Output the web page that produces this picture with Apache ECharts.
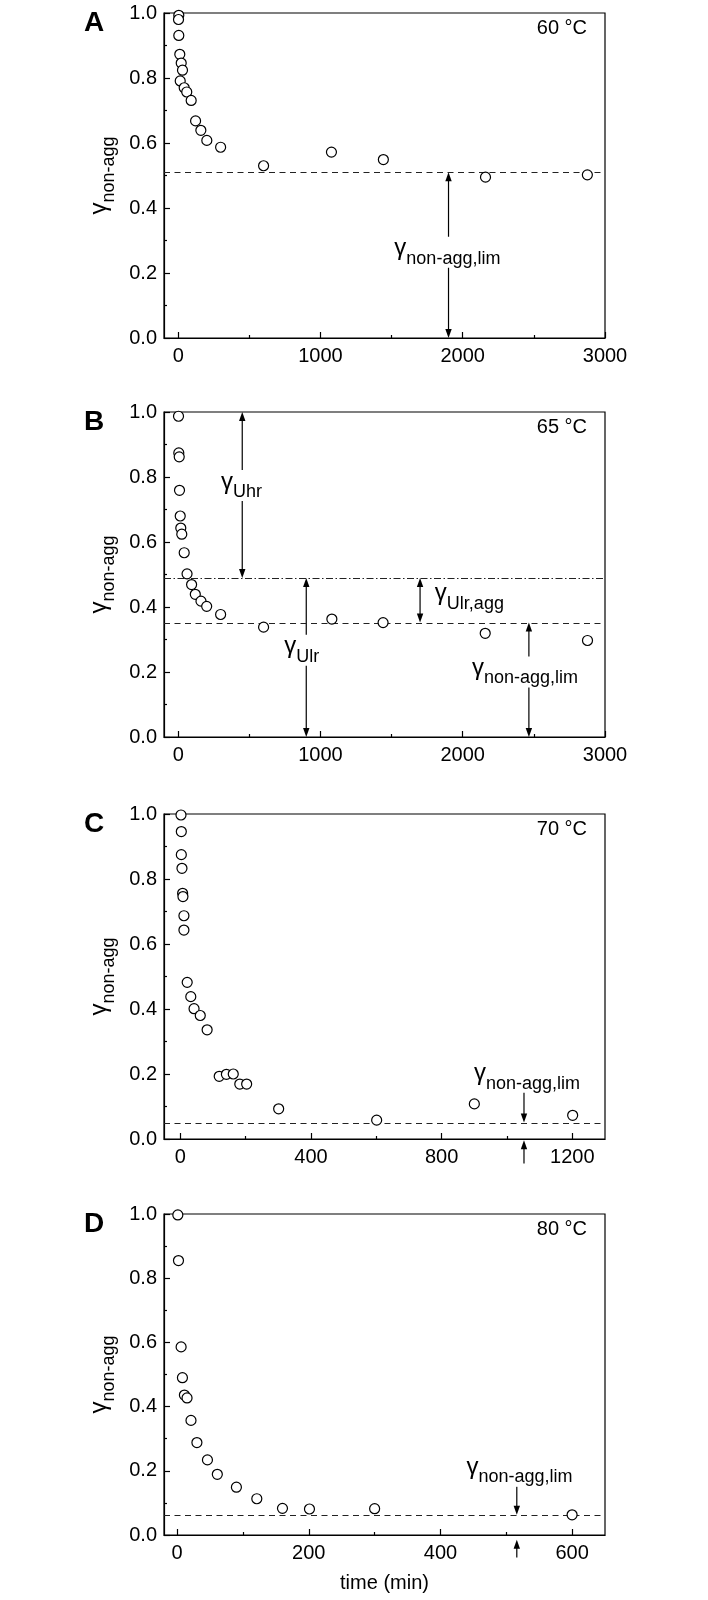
<!DOCTYPE html>
<html lang="en">
<head>
<meta charset="UTF-8">
<title>gamma non-agg</title>
<script src="https://cdn.jsdelivr.net/npm/echarts@6/dist/echarts.min.js"></script>
<style>
  html, body { margin: 0; padding: 0; background: #fff; }
  #main { width: 708px; height: 1600px; }
</style>
</head>
<body>
<div id="main"></div>
<script>
// panel A, 60 °C
var timeA  = [4, 2, 4, 11, 21, 30, 14, 42, 60, 91, 122, 159, 201, 298, 600, 1077, 1442, 2160, 2876];
var gammaA = [0.993, 0.980, 0.931, 0.873, 0.846, 0.824, 0.791, 0.770, 0.757, 0.731, 0.668, 0.639, 0.608, 0.587, 0.530, 0.572, 0.549, 0.495, 0.502];
var limA = 0.51;

// panel B, 65 °C
var timeB  = [2, 4, 7, 9, 14, 18, 25, 42, 62, 94, 120, 160, 200, 298, 600, 1080, 1440, 2158, 2877];
var gammaB = [0.987, 0.874, 0.862, 0.759, 0.680, 0.643, 0.624, 0.567, 0.502, 0.469, 0.439, 0.418, 0.402, 0.377, 0.338, 0.363, 0.352, 0.319, 0.297];
var limB = 0.352;
var uhrB = 0.489;

// panel C, 70 °C
var timeC  = [2, 3, 3, 5, 7, 8, 11, 11, 21, 32, 42, 61, 82, 119, 141, 162, 182, 203, 301, 601, 900, 1201];
var gammaC = [0.997, 0.946, 0.875, 0.833, 0.756, 0.746, 0.687, 0.643, 0.482, 0.438, 0.401, 0.380, 0.336, 0.193, 0.199, 0.200, 0.169, 0.169, 0.093, 0.058, 0.108, 0.073];
var limC = 0.051;

// panel D, 80 °C
var timeD  = [1, 2, 6, 8, 11, 15, 21, 30, 46, 61, 90, 121, 160, 201, 300, 600];
var gammaD = [0.997, 0.855, 0.586, 0.490, 0.436, 0.427, 0.357, 0.288, 0.234, 0.189, 0.149, 0.113, 0.083, 0.081, 0.082, 0.063];
var limD = 0.063;

// x tick values
var ticksAB = [0, 1000, 2000, 3000], minorAB = [500, 1500, 2500];
var ticksC = [0, 400, 800, 1200], minorC = [200, 600, 1000];
var ticksD = [0, 200, 400, 600], minorD = [100, 300, 500];

// arrows: [time, from, to, head at both ends]
var arrowsA = [[1900, 0, limA, 1]];
var arrowsB = [[450, 1.0, uhrB, 1], [900, 0, uhrB, 1], [1700, uhrB, limB, 1], [2465, 0, limB, 1]];
var arrowsC = [[1052, 0.147, limC, 0], [1052, -0.075, -0.004, 0]];
var arrowsD = [[516, 0.150, limD, 0], [516, -0.07, -0.015, 0]];

// annotation labels: [time, gamma], subscript
var notesA = [{x: 1892, y: 0.264, sub: 'non-agg,lim'}];
var notesB = [{x: 445, y: 0.774, sub: 'Uhr'}, {x: 868, y: 0.267, sub: 'Ulr'},
              {x: 1790, y: 0.43, sub: 'Ulr,agg', align: 'left'}, {x: 2437, y: 0.2, sub: 'non-agg,lim'}];
var notesC = [{x: 1061, y: 0.19, sub: 'non-agg,lim'}];
var notesD = [{x: 520, y: 0.2, sub: 'non-agg,lim'}];

var FONT = '"Liberation Sans", Arial, Helvetica, sans-serif';
var BLACK = '#000';

var panels = [
  {key: 'A', temp: '60 °C', time: timeA, gamma: gammaA, xmin: -100, xmax: 3000, ticks: ticksAB, minor: minorAB,
   lines: [{y: limA, type: [6, 4.5]}], arrows: arrowsA, notes: notesA, top: 13, height: 325},
  {key: 'B', temp: '65 °C', time: timeB, gamma: gammaB, xmin: -100, xmax: 3000, ticks: ticksAB, minor: minorAB,
   lines: [{y: limB, type: [6, 4.5]}, {y: uhrB, type: [7, 2.5, 1.5, 2.5]}], arrows: arrowsB, notes: notesB, top: 412, height: 325},
  {key: 'C', temp: '70 °C', time: timeC, gamma: gammaC, xmin: -50, xmax: 1300, ticks: ticksC, minor: minorC,
   lines: [{y: limC, type: [6, 4.5]}], arrows: arrowsC, notes: notesC, top: 814, height: 325},
  {key: 'D', temp: '80 °C', time: timeD, gamma: gammaD, xmin: -20, xmax: 650, ticks: ticksD, minor: minorD,
   lines: [{y: limD, type: [6, 4.5]}], arrows: arrowsD, notes: notesD, top: 1214, height: 321}
];

// γ sits at the top of the line box, the subscript at its bottom
var richName = {
  g: {fontSize: 24, fontFamily: FONT, color: BLACK, lineHeight: 24, verticalAlign: 'top'},
  s: {fontSize: 18, fontFamily: FONT, color: BLACK, lineHeight: 31, verticalAlign: 'bottom'}
};
var richNote = {
  g: {fontSize: 24, fontFamily: FONT, fill: BLACK, lineHeight: 24, verticalAlign: 'top'},
  s: {fontSize: 18, fontFamily: FONT, fill: BLACK, lineHeight: 31, verticalAlign: 'bottom'}
};

function arrowRenderer(params, api) {
  var x = api.value(0);
  var p1 = api.coord([x, api.value(1)]);
  var p2 = api.coord([x, api.value(2)]);
  var both = api.value(3) === 1;
  var L = 9, W = 3.2;
  var dir = p2[1] > p1[1] ? 1 : -1;
  var kids = [{
    type: 'line',
    shape: {x1: p1[0], y1: both ? p1[1] + dir * (L - 2) : p1[1], x2: p2[0], y2: p2[1] - dir * (L - 2)},
    style: {stroke: BLACK, lineWidth: 1.2}
  }, {
    type: 'polygon',
    shape: {points: [[p2[0], p2[1]], [p2[0] - W, p2[1] - dir * L], [p2[0] + W, p2[1] - dir * L]]},
    style: {fill: BLACK}
  }];
  if (both) {
    kids.push({
      type: 'polygon',
      shape: {points: [[p1[0], p1[1]], [p1[0] - W, p1[1] + dir * L], [p1[0] + W, p1[1] + dir * L]]},
      style: {fill: BLACK}
    });
  }
  return {type: 'group', children: kids};
}

function noteRenderer(notes) {
  return function (params, api) {
    var pt = api.coord([api.value(0), api.value(1)]);
    var n = notes[params.dataIndex];
    return {
      type: 'text', x: pt[0], y: pt[1],
      style: {
        text: '{g|γ}{s|' + n.sub + '}', rich: richNote,
        align: n.align || 'center', verticalAlign: 'middle',
        backgroundColor: '#fff', padding: [0, 2]
      }
    };
  };
}

var grid = [], xAxis = [], yAxis = [], series = [], graphic = [];
var lineStyle = {color: BLACK, width: 1.2};

panels.forEach(function (p, i) {
  grid.push({
    left: 164, width: 441, top: p.top, height: p.height,
    show: true, borderColor: BLACK, borderWidth: 1.2, backgroundColor: 'transparent',
    containLabel: false, outerBoundsMode: 'none'
  });
  xAxis.push({
    gridIndex: i, type: 'value', position: 'bottom', min: p.xmin, max: p.xmax,
    axisLine: {show: true, onZero: false, lineStyle: lineStyle},
    axisTick: {show: true, inside: true, length: 6, customValues: p.ticks, lineStyle: lineStyle},
    axisLabel: {
      customValues: p.ticks, color: BLACK, fontSize: 20, fontFamily: FONT, margin: 8,
      formatter: function (v) { return String(v); }
    },
    splitLine: {show: false},
    name: i === 3 ? 'time (min)' : '',
    nameLocation: 'middle', nameGap: 38,
    nameTextStyle: {color: BLACK, fontSize: 20, fontFamily: FONT}
  });
  xAxis.push({
    gridIndex: i, type: 'value', position: 'bottom', min: p.xmin, max: p.xmax,
    axisLine: {show: false, onZero: false},
    axisTick: {show: true, inside: true, length: 3, customValues: p.minor, lineStyle: lineStyle},
    axisLabel: {show: false},
    splitLine: {show: false}
  });
  yAxis.push({
    gridIndex: i, type: 'value', min: 0, max: 1, interval: 0.2,
    axisLine: {show: true, onZero: false, lineStyle: lineStyle},
    axisTick: {show: true, inside: true, length: 6, lineStyle: lineStyle},
    minorTick: {show: true, splitNumber: 2, length: 3, lineStyle: lineStyle},
    axisLabel: {
      color: BLACK, fontSize: 20, fontFamily: FONT, margin: 7,
      formatter: function (v) { return v.toFixed(1); }
    },
    splitLine: {show: false},
    minorSplitLine: {show: false},
    name: '{g|γ}{s|non-agg}', nameLocation: 'middle', nameRotate: 90, nameGap: 46,
    nameTextStyle: {rich: richName}
  });

  series.push({
    type: 'scatter', xAxisIndex: 2 * i, yAxisIndex: i,
    data: p.time.map(function (t, k) { return [t, p.gamma[k]]; }),
    symbol: 'circle', symbolSize: 10, clip: false, silent: true,
    itemStyle: {color: '#fff', borderColor: BLACK, borderWidth: 1.2, opacity: 1},
    z: 5,
    markLine: {
      silent: true, symbol: 'none', label: {show: false},
      data: p.lines.map(function (l) {
        return {yAxis: l.y, lineStyle: {type: l.type, color: '#222', width: 1.1}};
      })
    }
  });
  series.push({
    type: 'custom', xAxisIndex: 2 * i, yAxisIndex: i, clip: false, silent: true,
    data: p.arrows, renderItem: arrowRenderer, z: 3
  });
  series.push({
    type: 'custom', xAxisIndex: 2 * i, yAxisIndex: i, clip: false, silent: true,
    data: p.notes.map(function (n) { return [n.x, n.y]; }),
    renderItem: noteRenderer(p.notes), z: 4
  });

  graphic.push({
    type: 'text', left: 84, top: p.top - 4,
    style: {text: p.key, font: 'bold 28px ' + FONT, fill: BLACK}
  });
  graphic.push({
    type: 'text', right: 121, top: p.top + 5,
    style: {text: p.temp, font: '20px ' + FONT, fill: BLACK}
  });
});

var myChart = echarts.init(document.getElementById('main'), null, {renderer: 'canvas'});
myChart.setOption({
  animation: false,
  backgroundColor: '#fff',
  grid: grid,
  xAxis: xAxis,
  yAxis: yAxis,
  series: series,
  graphic: graphic
});
</script>
</body>
</html>
